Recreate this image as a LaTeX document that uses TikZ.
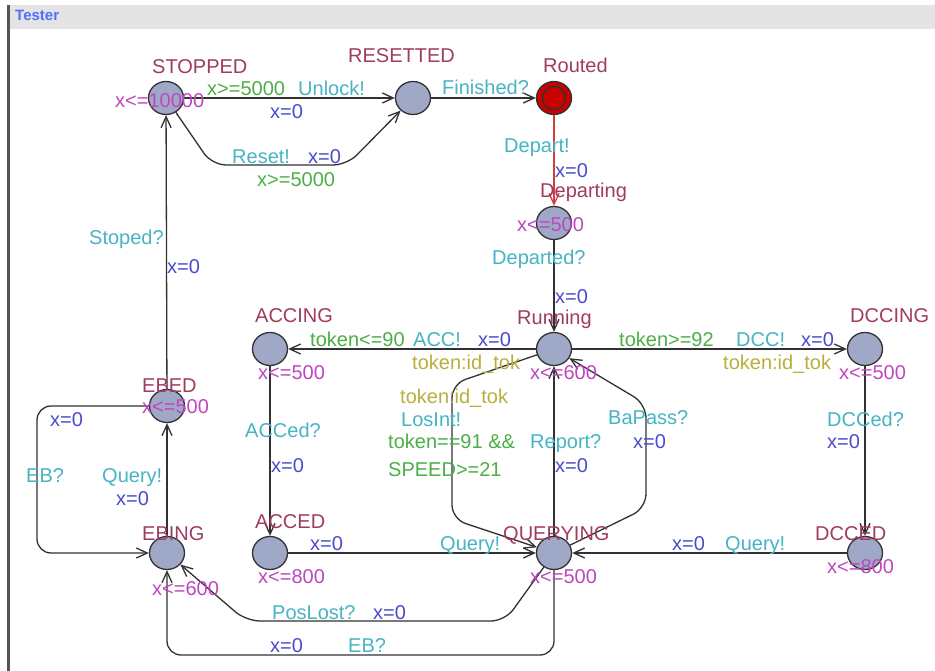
\documentclass[tikz,border=0pt]{standalone}
\usepackage{fontspec}
\setmainfont{Liberation Sans}
\usetikzlibrary{arrows.meta,shapes.geometric}
\definecolor{locname}{RGB}{160,60,95}
\definecolor{inv}{RGB}{190,70,190}
\definecolor{guard}{RGB}{75,175,70}
\definecolor{sync}{RGB}{70,180,195}
\definecolor{upd}{RGB}{75,75,205}
\definecolor{sel}{RGB}{185,175,60}
\definecolor{locfill}{RGB}{160,168,200}
\definecolor{edgec}{RGB}{50,50,50}
\definecolor{hdr}{RGB}{228,228,228}
\definecolor{titlec}{RGB}{80,110,255}
\definecolor{routedfill}{RGB}{200,0,0}
\definecolor{redge}{RGB}{215,60,60}
\definecolor{framec}{RGB}{85,85,85}
\begin{document}
\begin{tikzpicture}[x=1pt,y=-1pt,
  loc/.style={ellipse, draw=edgec, line width=1.3pt, fill=locfill, minimum width=35pt, minimum height=33pt, inner sep=0pt},
  lbl/.style={anchor=base west, inner sep=0pt, font=\fontsize{20}{24}\selectfont},
  nm/.style={lbl, text=locname},
  iv/.style={lbl, text=inv},
  gd/.style={lbl, text=guard},
  sy/.style={lbl, text=sync},
  up/.style={lbl, text=upd},
  se/.style={lbl, text=sel},
  tr/.style={draw=edgec, line width=1.3pt, -{Straight Barb[length=11pt,width=10pt,line width=1.3pt]}, rounded corners=14pt},
]
\useasboundingbox (0,0) rectangle (935,671);
\fill[white] (0,0) rectangle (935,671);
% frame and header
\fill[hdr] (9,5) rectangle (935,29);
\draw[framec, line width=2.5pt] (8.5,5) -- (8.5,671);
\node[anchor=base west, inner sep=0pt, font=\fontsize{15}{18}\selectfont\bfseries, text=titlec] (title) at (15,21) {Tester};

% locations
\node[loc] (STOPPED) at (166,98) {};
\node[loc] (RESETTED) at (413,98) {};
\node[loc, fill=routedfill] (Routed) at (554,98) {};
\node[circle, draw=edgec, line width=1.3pt, minimum size=23pt, inner sep=0pt] (RoutedIn) at (554,98) {};
\node[loc] (Departing) at (554,223) {};
\node[loc] (Running) at (554,349) {};
\node[loc] (ACCING) at (270,349) {};
\node[loc] (DCCING) at (865,349) {};
\node[loc] (EBED) at (167,406) {};
\node[loc] (EBING) at (167,553) {};
\node[loc] (ACCED) at (270,553) {};
\node[loc] (QUERYING) at (554,553) {};
\node[loc] (DCCED) at (865,553) {};

% edges
\draw[tr] (STOPPED) -- (RESETTED);
\draw[tr] (STOPPED) -- (212,165) -- (347,165) -- (RESETTED);
\draw[tr] (RESETTED) -- (Routed);
\draw[tr, draw=redge] (Routed) -- (Departing);
\draw[tr] (Departing) -- (Running);
\draw[tr] (Running) -- (ACCING);
\draw[tr] (Running) -- (DCCING);
\draw[tr] (DCCING) -- (DCCED);
\draw[tr] (DCCED) -- (QUERYING);
\draw[tr] (ACCING) -- (ACCED);
\draw[tr] (ACCED) -- (QUERYING);
\draw[tr] (QUERYING) -- (Running);
\draw[tr] (Running) -- (452,384) -- (452,519) -- (QUERYING);
\draw[tr] (QUERYING) -- (646,508) -- (646,404) -- (Running);
\draw[tr] (EBING) -- (EBED);
\draw[tr] (EBED) -- (37,406) -- (37,553) -- (EBING);
\draw[tr] (EBED) -- (STOPPED);
\draw[tr] (QUERYING) -- (505,621) -- (246,621) -- (EBING);
\draw[tr] (QUERYING) -- (554,655) -- (167,655) -- (EBING);

% location names
\node[nm] (nSTOPPED) at (152,74) {STOPPED};
\node[nm] (nRESETTED) at (348,63) {RESETTED};
\node[nm] (nRouted) at (543,73) {Routed};
\node[nm] (nDeparting) at (540,198) {Departing};
\node[nm] (nRunning) at (517,324) {Running};
\node[nm] (nACCING) at (255,323) {ACCING};
\node[nm] (nDCCING) at (850,323) {DCCING};
\node[nm] (nEBED) at (142,392) {EBED};
\node[nm] (nEBING) at (142,540) {EBING};
\node[nm] (nACCED) at (255,528) {ACCED};
\node[nm] (nQUERYING) at (503,540) {QUERYING};
\node[nm] (nDCCED) at (815,540) {DCCED};

% invariants
\node[iv] (iSTOPPED) at (115,108) {x<=10000};
\node[iv] (iDeparting) at (517,232) {x<=500};
\node[iv] (iRunning) at (530,379) {x<=600};
\node[iv] (iACCING) at (258,379) {x<=500};
\node[iv] (iDCCING) at (839,379) {x<=500};
\node[iv] (iEBED) at (142,413) {x<=500};
\node[iv] (iEBING) at (152,595) {x<=600};
\node[iv] (iACCED) at (258,583) {x<=800};
\node[iv] (iQUERYING) at (530,583) {x<=500};
\node[iv] (iDCCED) at (827,573) {x<=800};

% edge labels
\node[gd] (g1) at (207,96) {x>=5000};
\node[sy] (s1) at (298,96) {Unlock!};
\node[up] (u1) at (270,119) {x=0};
\node[sy] (s2) at (232,164) {Reset!};
\node[up] (u2) at (308,164) {x=0};
\node[gd] (g2) at (257,187) {x>=5000};
\node[sy] (s3) at (442,95) {Finished?};
\node[sy] (s4) at (504,153) {Depart!};
\node[up] (u4) at (555,178) {x=0};
\node[sy] (s5) at (492,265) {Departed?};
\node[up] (u5) at (555,304) {x=0};
\node[gd] (g6) at (310,346) {token<=90};
\node[sy] (s6) at (413,346) {ACC!};
\node[up] (u6) at (478,346) {x=0};
\node[se] (e6) at (412,369) {token:id\_tok};
\node[gd] (g7) at (619,346) {token>=92};
\node[sy] (s7) at (736,346) {DCC!};
\node[up] (u7) at (801,346) {x=0};
\node[se] (e7) at (723,369) {token:id\_tok};
\node[sy] (s8) at (827,426) {DCCed?};
\node[up] (u8) at (827,448) {x=0};
\node[up] (u9) at (672,550) {x=0};
\node[sy] (s9) at (725,550) {Query!};
\node[sy] (s10) at (245,437) {ACCed?};
\node[up] (u10) at (271,472) {x=0};
\node[up] (u11) at (310,550) {x=0};
\node[sy] (s11) at (440,550) {Query!};
\node[sy] (s12) at (530,448) {Report?};
\node[up] (u12) at (555,472) {x=0};
\node[se] (e13) at (400,403) {token:id\_tok};
\node[sy] (s13) at (401,426) {LosInt!};
\node[gd] (g13a) at (388,448) {token==91 \&\&};
\node[gd] (g13b) at (388,476) {SPEED>=21};
\node[sy] (s14) at (608,424) {BaPass?};
\node[up] (u14) at (633,448) {x=0};
\node[sy] (s15) at (102,482) {Query!};
\node[up] (u15) at (116,505) {x=0};
\node[up] (u16) at (50,426) {x=0};
\node[sy] (s16) at (26,482) {EB?};
\node[sy] (s17) at (89,245) {Stoped?};
\node[up] (u17) at (167,273) {x=0};
\node[sy] (s18) at (272,619) {PosLost?};
\node[up] (u18) at (373,619) {x=0};
\node[up] (u19) at (270,652) {x=0};
\node[sy] (s19) at (348,652) {EB?};
\end{tikzpicture}
\end{document}
